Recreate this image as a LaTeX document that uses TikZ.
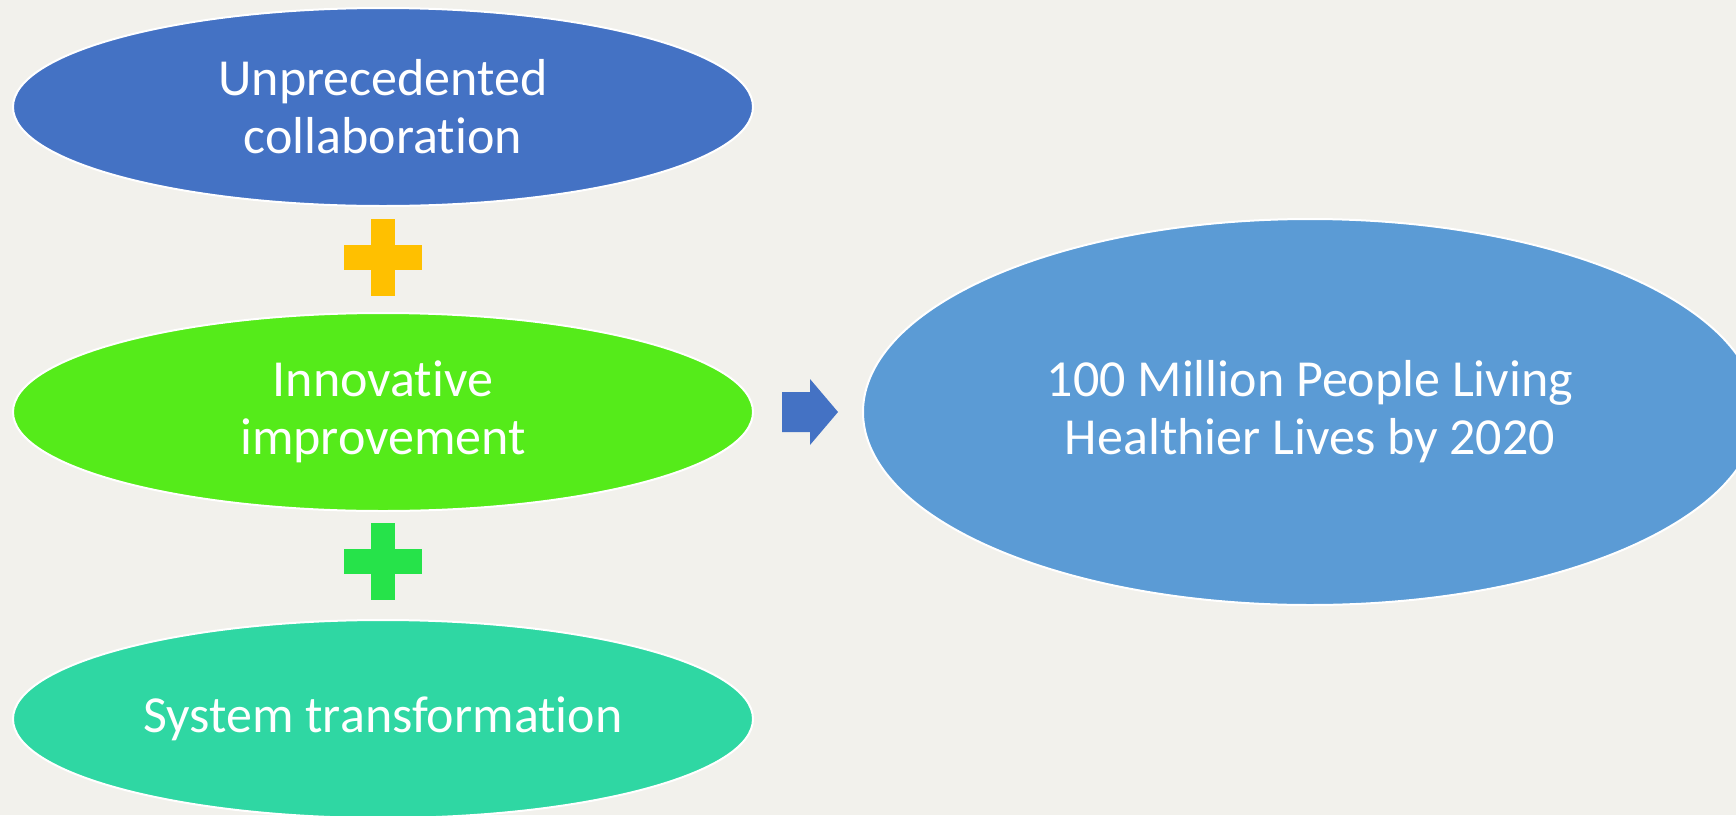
\documentclass[tikz,border=0pt]{standalone}
\usepackage{fontspec}
\setmainfont[Ligatures={NoCommon,NoRequired,NoContextual,NoDiscretionary}]{Carlito}
\usetikzlibrary{shapes.geometric}
\definecolor{pagebg}{HTML}{F2F1EC}
\definecolor{collabblue}{HTML}{4472C4}
\definecolor{innovgreen}{HTML}{55EB1A}
\definecolor{systeal}{HTML}{2FD7A3}
\definecolor{goalblue}{HTML}{5B9BD5}
\definecolor{plusyellow}{HTML}{FFC000}
\definecolor{plusgreen}{HTML}{26E34A}
\begin{document}
\begin{tikzpicture}[x=0.5pt, y=-0.5pt]
    \tikzstyle{oval} = [ellipse, draw=white, line width=1pt, text=white, align=center,
                        font=\fontsize{26}{29}\selectfont, inner sep=0pt]
    \tikzstyle{small oval} = [oval, minimum width=370pt, minimum height=99pt]
    \fill[pagebg] (0,0) rectangle (1736,815);
    \clip (0,0) rectangle (1736,815);
    \useasboundingbox (0,0) rectangle (1736,815);
    % left column
    \node[small oval, fill=collabblue] (collab) at (383,107) {Unprecedented\\collaboration};
    \node[small oval, fill=innovgreen] (innov) at (383,412) {Innovative\\improvement};
    \node[small oval, fill=systeal] (system) at (383,719) {System transformation};
    % plus signs
    \fill[plusyellow] (371,219) rectangle (395,296);
    \fill[plusyellow] (344,245) rectangle (422,270);
    \fill[plusgreen] (371,523) rectangle (395,600);
    \fill[plusgreen] (344,549) rectangle (422,574);
    % arrow
    \fill[collabblue] (782,392) -- (810,392) -- (810,379) -- (838,412)
        -- (810,445) -- (810,432) -- (782,432) -- cycle;
    % goal
    \node[oval, fill=goalblue, minimum width=447pt, minimum height=193pt] (goal) at (1310,412)
        {100 Million People Living\\Healthier Lives by 2020};
\end{tikzpicture}
\end{document}
